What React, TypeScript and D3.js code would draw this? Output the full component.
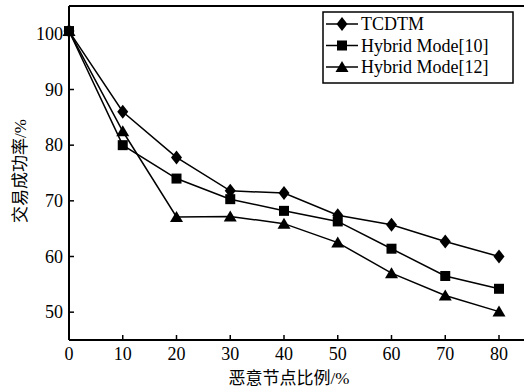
import React from 'react';
import * as d3 from 'd3';

const rates = [0, 10, 20, 30, 40, 50, 60, 70, 80];
const tcdtm = [100.5, 86, 77.8, 71.8, 71.4, 67.4, 65.7, 62.7, 60];
const hybrid10 = [100.5, 80, 74, 70.3, 68.2, 66.3, 61.4, 56.5, 54.2];
const hybrid12 = [100.5, 82.5, 67.1, 67.2, 65.9, 62.5, 57, 53, 50.1];
const xTicks = [0, 10, 20, 30, 40, 50, 60, 70, 80];
const yTicks = [50, 60, 70, 80, 90, 100];
const seriesNames = ['TCDTM', 'Hybrid Mode[10]', 'Hybrid Mode[12]'];
const markerTypes = ['diamond', 'square', 'triangle'];

const W = 524;
const H = 389;
const left = 69, top = 6, right = 540, bottom = 340;

const x = d3.scaleLinear().domain([0, 80]).range([left, 499]);
const y = d3.scaleLinear().domain([45, 105]).range([bottom, top]);

const serif = '"Liberation Serif", "Times New Roman", serif';
const cjk = '"Noto Sans CJK SC", sans-serif';

function Marker({ type, cx, cy }: { type: string; cx: number; cy: number }) {
  if (type === 'diamond') {
    return <path d={`M${cx},${cy - 7}L${cx + 5.5},${cy}L${cx},${cy + 7}L${cx - 5.5},${cy}Z`} fill="#000" />;
  }
  if (type === 'square') {
    return <rect x={cx - 5} y={cy - 5} width={10} height={10} fill="#000" />;
  }
  return <path d={`M${cx},${cy - 6}L${cx + 6.5},${cy + 5}L${cx - 6.5},${cy + 5}Z`} fill="#000" />;
}

export default function App() {
  const allSeries = [tcdtm, hybrid10, hybrid12];
  const line = d3.line<number>()
    .x((_, i) => x(rates[i]))
    .y((d) => y(d));

  return (
    <svg width={W} height={H} style={{ position: 'fixed', left: 0, top: 0, background: '#fff' }}>
      <rect width={W} height={H} fill="#fff" />
      {/* frame */}
      <line x1={left} y1={top} x2={right} y2={top} stroke="#000" strokeWidth={2} />
      <line x1={left} y1={bottom} x2={right} y2={bottom} stroke="#000" strokeWidth={2} />
      <line x1={left} y1={top} x2={left} y2={bottom} stroke="#000" strokeWidth={2} />

      {xTicks.map((t) => (
        <g key={'x' + t}>
          <line x1={x(t)} x2={x(t)} y1={bottom} y2={bottom - 5} stroke="#000" strokeWidth={1.5} />
          <text x={x(t)} y={bottom + 20} textAnchor="middle" fontFamily={serif} fontSize={18}>{t}</text>
        </g>
      ))}
      {yTicks.map((t) => (
        <g key={'y' + t}>
          <line x1={left} x2={left + 5} y1={y(t)} y2={y(t)} stroke="#000" strokeWidth={1.5} />
          <text x={left - 6} y={y(t) + 6} textAnchor="end" fontFamily={serif} fontSize={18}>{t}</text>
        </g>
      ))}

      {allSeries.map((s, k) => (
        <g key={'s' + k}>
          <path d={line(s) || ''} fill="none" stroke="#000" strokeWidth={1.5} />
          {s.map((v, i) => (
            <Marker key={i} type={markerTypes[k]} cx={x(rates[i])} cy={y(v)} />
          ))}
        </g>
      ))}

      {/* legend */}
      <rect x={323} y={12} width={190} height={71} fill="#fff" stroke="#000" strokeWidth={1.5} />
      {seriesNames.map((n, k) => {
        const ly = 24 + k * 21.5;
        return (
          <g key={n}>
            <line x1={326} x2={358} y1={ly} y2={ly} stroke="#000" strokeWidth={1.5} />
            <Marker type={markerTypes[k]} cx={342} cy={ly} />
            <text x={361} y={ly + 6} fontFamily={serif} fontSize={18}>{n}</text>
          </g>
        );
      })}

      <text x={289} y={384} textAnchor="middle" fontSize={17}>
        <tspan fontFamily={cjk}>恶意节点比例</tspan>
        <tspan fontFamily={serif}>/%</tspan>
      </text>
      <text transform="translate(26,171) rotate(-90)" textAnchor="middle" fontSize={17}>
        <tspan fontFamily={cjk}>交易成功率</tspan>
        <tspan fontFamily={serif}>/%</tspan>
      </text>
    </svg>
  );
}
